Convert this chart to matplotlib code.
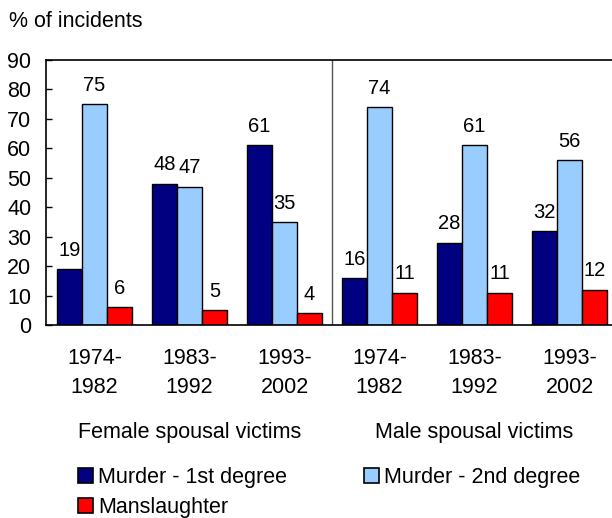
import numpy as np
from matplotlib import pyplot as plt
from matplotlib.patches import Patch
from matplotlib import transforms

plt.rcParams['font.family'] = ['Liberation Sans', 'DejaVu Sans']

# periods shown under each group of bars
periods = ["1974-\n1982", "1983-\n1992", "1993-\n2002",
           "1974-\n1982", "1983-\n1992", "1993-\n2002"]
victim_groups = ["Female spousal victims", "Male spousal victims"]

# % of incidents by charge type
murder_1st = [19, 48, 61, 16, 28, 32]
murder_2nd = [75, 47, 35, 74, 61, 56]
manslaughter = [6, 5, 4, 11, 11, 12]

series = [("Murder - 1st degree", murder_1st, "#000080"),
          ("Murder - 2nd degree", murder_2nd, "#99CCFF"),
          ("Manslaughter", manslaughter, "#FF0000")]

W, H = 612, 518
fig = plt.figure(figsize=(W / 100, H / 100), dpi=100)
ax = fig.add_axes([46 / W, (H - 325) / H, 1.0 - 46 / W, (325 - 60) / H])

x = np.arange(len(periods))
width = 0.263
for i, (name, vals, color) in enumerate(series):
    bars = ax.bar(x + (i - 1) * width, vals, width, color=color,
                  edgecolor="black", linewidth=1.0, label=name)
    for b, v in zip(bars, vals):
        ax.annotate(str(v), (b.get_x() + b.get_width() / 2, v),
                    xytext=(0, 9.5), textcoords="offset points",
                    ha="center", va="baseline", fontsize=14.5)

# divider between female and male victims
ax.axvline(2.5, color="#555555", linewidth=1.0)

ax.set_xlim(-0.511, 5.447)
ax.set_ylim(0, 90)
ax.set_yticks(range(0, 91, 10))
ax.tick_params(axis="y", direction="in", length=4.5, width=1.0,
               pad=10.5, labelsize=15.5)
ax.set_xticks(x)
ax.set_xticklabels(periods, linespacing=1.5)
ax.tick_params(axis="x", length=0, pad=16.5, labelsize=15.5)
ax.spines["right"].set_visible(False)
for s in ["left", "top", "bottom"]:
    ax.spines[s].set_linewidth(1.2)

fig.text(9 / W, (H - 27) / H, "% of incidents", fontsize=15.5,
         ha="left", va="baseline")

trans = transforms.blended_transform_factory(ax.transData, fig.transFigure)
for gx, name in zip([1, 4], victim_groups):
    ax.text(gx, (H - 438) / H, name, transform=trans, fontsize=15.5,
            ha="center", va="baseline")

# legend: column 1 holds 1st degree + manslaughter, column 2 holds 2nd degree
handles = [Patch(facecolor=c, edgecolor="black", linewidth=1.2, label=n)
           for n, _, c in [series[0], series[2], series[1]]]
fig.legend(handles=handles, ncol=2, loc="upper left",
           bbox_to_anchor=(78 / W, (H - 467) / H), frameon=False,
           fontsize=15.5, handlelength=0.7, handleheight=0.7,
           handletextpad=0.25, columnspacing=3.55, labelspacing=0.4,
           borderpad=0, borderaxespad=0)

plt.savefig("out.png", dpi=100)
